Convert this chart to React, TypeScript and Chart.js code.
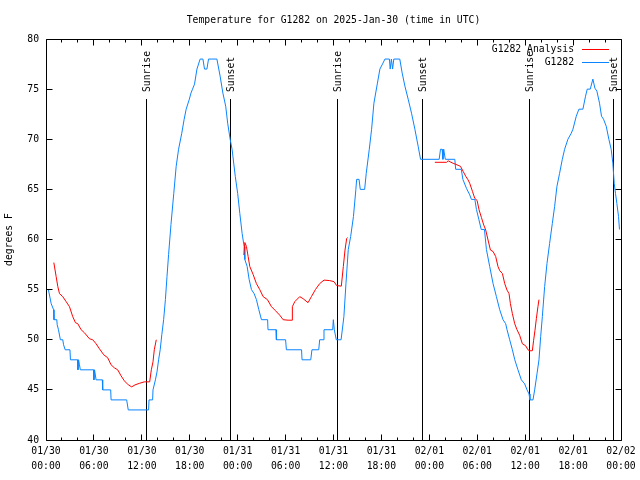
import React, { useEffect, useRef } from "react";
import { Chart, registerables } from "chart.js";

Chart.register(...registerables);

const FONT = "'DejaVu Sans Mono', 'Liberation Mono', monospace";
const FONT_SIZE = 9.75;

const titleText = "Temperature for G1282 on 2025-Jan-30 (time in UTC)";
const yAxisTitle = "degrees F";

// hours since 2025-01-30 00:00 UTC
const xTickDates = ["01/30", "01/30", "01/30", "01/30", "01/31", "01/31", "01/31", "01/31", "02/01", "02/01", "02/01", "02/01", "02/02"];
const xTickTimes = ["00:00", "06:00", "12:00", "18:00", "00:00", "06:00", "12:00", "18:00", "00:00", "06:00", "12:00", "18:00", "00:00"];
const yTickValues = [40, 45, 50, 55, 60, 65, 70, 75, 80];

const sunHours = [12.6, 23.1, 36.48, 47.1, 60.48, 71.1];
const sunLabels = ["Sunrise", "Sunset", "Sunrise", "Sunset", "Sunrise", "Sunset"];

const seriesNames = ["G1282 Analysis", "G1282"];
const seriesColors = ["#ff0000", "#0a84ff"];

// [hour, degrees F]
const observed: number[][] = [
  [0.3, 55], [0.65, 53.6], [0.95, 53], [1.0, 52], [1.35, 52], [1.4, 51.5], [1.56, 51], [1.8, 50], [2.1, 50], [2.2, 49.5],
  [2.4, 49], [3.0, 49], [3.06, 48], [3.95, 48], [4.0, 47], [4.08, 48], [4.19, 47.5], [4.3, 47], [5.95, 47], [6.0, 46],
  [6.08, 47], [6.27, 46], [7.05, 46], [7.1, 45], [8.1, 45], [8.15, 44], [10.1, 44], [10.3, 43], [12.85, 43],
  [12.9, 44], [13.35, 44], [13.4, 45], [13.7, 46], [13.9, 46.8], [14.1, 48], [14.3, 49], [14.5, 50.5], [14.73, 52],
  [14.95, 54], [15.15, 56.3], [15.35, 58.5], [15.65, 61.5], [16.0, 64.6], [16.3, 67.3], [16.6, 69], [17.0, 70.6],
  [17.3, 72], [17.55, 73], [17.95, 74], [18.15, 74.6], [18.35, 75], [18.6, 75.5], [18.9, 77], [19.3, 78], [19.65, 78],
  [19.85, 77], [20.15, 77], [20.35, 78], [21.4, 78], [21.8, 76.3], [22.15, 74.6], [22.5, 73.3], [22.75, 71.6],
  [23.06, 70], [23.3, 69], [23.7, 66.3], [24.0, 64.6], [24.27, 62.6], [24.56, 60.6], [24.81, 59.3], [24.9, 58],
  [25.19, 57.3], [25.44, 56], [25.73, 55], [26.06, 54.6], [26.35, 54], [26.65, 53], [26.98, 52], [27.75, 52],
  [27.8, 51], [28.8, 51], [28.85, 50], [30.0, 50], [30.1, 49], [32.0, 49], [32.06, 48], [33.15, 48], [33.3, 49],
  [34.15, 49], [34.27, 50], [34.7, 50], [34.81, 51], [35.9, 51], [35.98, 52], [36.05, 52], [36.1, 51], [36.35, 50],
  [36.95, 50], [37.3, 52.3], [37.56, 55.6], [37.85, 59], [38.15, 60.3], [38.5, 62.3], [38.8, 65], [38.9, 66],
  [39.2, 66], [39.35, 65], [39.9, 65], [40.1, 66.6], [40.48, 69], [40.77, 71], [41.06, 73.6], [41.5, 75.6],
  [41.81, 77], [42.2, 77.6], [42.44, 78], [43.0, 78], [43.1, 77], [43.25, 78], [43.4, 77], [43.55, 78], [44.3, 78],
  [44.6, 76.6], [44.94, 75.3], [45.35, 74], [45.77, 72.6], [46.19, 71], [46.6, 69.3], [46.9, 68], [49.23, 68],
  [49.4, 69], [49.6, 69], [49.7, 68], [49.8, 69], [50.0, 68], [51.19, 68], [51.3, 67], [52.0, 67], [52.2, 66],
  [52.65, 65.1], [53.06, 64.45], [53.27, 64], [53.7, 64], [53.9, 63], [54.2, 62], [54.5, 61], [54.9, 61], [55.15, 59],
  [55.56, 57.3], [55.98, 55.6], [56.4, 54.3], [56.81, 53], [57.23, 52], [57.56, 51.6], [57.73, 51], [58.06, 50],
  [58.4, 49], [58.7, 48], [59.1, 47], [59.52, 46], [59.94, 45.6], [60.23, 45], [60.48, 44.6], [60.6, 44], [60.98, 44],
  [61.19, 45], [61.48, 46.6], [61.73, 48], [61.94, 50.3], [62.15, 52.3], [62.44, 55.3], [62.73, 57.6], [63.06, 59.6],
  [63.4, 61.6], [63.69, 63.3], [63.98, 65.3], [64.31, 66.6], [64.65, 68], [64.94, 69], [65.35, 70], [65.77, 70.6],
  [65.98, 71], [66.4, 72.3], [66.73, 73], [67.23, 73], [67.56, 74.3], [67.77, 75], [68.15, 75], [68.48, 76],
  [68.73, 75.1], [68.98, 74.8], [69.31, 73.6], [69.56, 72.3], [69.81, 72], [70.15, 71.3], [70.48, 70], [70.77, 69],
  [70.98, 67.6], [71.15, 65.6], [71.31, 64.6], [71.48, 63.6], [71.69, 62.3], [71.81, 61],
];

const analysisNight1: number[][] = [
  [0.98, 57.7], [1.27, 56.3], [1.48, 55.3], [1.69, 54.6], [2.1, 54.3], [2.52, 53.8], [2.94, 53.3], [3.35, 52.3],
  [3.69, 51.7], [3.98, 51.6], [4.4, 51], [4.81, 50.7], [5.44, 50.1], [5.85, 50], [6.27, 49.6], [6.69, 49.1],
  [7.23, 48.5], [7.73, 48.2], [8.15, 47.5], [8.56, 47.2], [8.98, 47], [9.4, 46.4], [9.81, 45.9], [10.31, 45.5],
  [10.73, 45.3], [11.15, 45.5], [11.69, 45.65], [12.31, 45.8], [12.98, 45.8], [13.19, 47], [13.4, 47.8],
  [13.56, 49], [13.81, 50],
];
const analysisNight2: number[][] = [
  [24.77, 58.45], [24.9, 59.7], [25.1, 59.3], [25.31, 58.3], [25.52, 57.3], [25.94, 56.5], [26.35, 55.6],
  [26.77, 55], [27.19, 54.3], [27.73, 54], [28.23, 53.3], [28.73, 52.9], [29.27, 52.45], [29.69, 52],
  [30.31, 51.95], [30.81, 51.95], [30.85, 53.3], [31.15, 53.8], [31.77, 54.3], [32.19, 54.1], [32.81, 53.7],
  [33.23, 54.3], [33.73, 55], [34.27, 55.6], [34.81, 55.95], [35.52, 55.9], [36.06, 55.8], [36.4, 55.4],
  [36.98, 55.35], [37.23, 57.3], [37.44, 58.95], [37.65, 60.1], [37.77, 60.2],
];
const analysisNight3: number[][] = [
  [48.69, 67.7], [50.15, 67.7], [50.35, 67.85], [50.98, 67.6], [51.31, 67.5], [51.6, 67.4], [51.9, 67.3],
  [52.23, 66.8], [52.56, 66.3], [52.85, 65.95], [53.06, 65.6], [53.4, 64.8], [53.69, 64.1], [53.98, 63.9],
  [54.23, 62.95], [54.52, 62.2], [54.81, 61.45], [55.06, 60.95], [55.35, 59.95], [55.65, 58.95], [55.98, 58.8],
  [56.31, 58.3], [56.6, 57.3], [56.81, 56.9], [57.15, 56.6], [57.44, 55.6], [57.73, 54.95], [57.98, 54.6],
  [58.15, 53.6], [58.4, 52.6], [58.69, 51.6], [58.98, 51], [59.31, 50.45], [59.65, 49.6], [60.06, 49.4],
  [60.35, 49], [60.56, 48.9], [60.9, 48.9], [61.06, 49.95], [61.23, 50.95], [61.4, 52.1], [61.6, 53.3], [61.73, 54],
];

const toPts = (arr: number[][]) => arr.map(([x, y]) => ({ x, y }));
const withGaps = (segs: number[][][]) => {
  const out: { x: number; y: number | null }[] = [];
  segs.forEach((s, i) => {
    if (i > 0) out.push({ x: (segs[i - 1][segs[i - 1].length - 1][0] + s[0][0]) / 2, y: null });
    out.push(...toPts(s));
  });
  return out;
};

const crisp = (v: number) => Math.floor(v) + 0.5;

const gnuplotPlugin = {
  id: "gnuplotDecor",
  beforeDatasetsDraw(chart: any) {
    const ctx = chart.ctx;
    const xs = chart.scales.x;
    const area = chart.chartArea;
    ctx.save();
    ctx.strokeStyle = "#000";
    ctx.lineWidth = 1;
    ctx.fillStyle = "#000";
    ctx.font = `${FONT_SIZE}px ${FONT}`;
    sunHours.forEach((h, i) => {
      const px = crisp(xs.getPixelForValue(h));
      ctx.beginPath();
      ctx.moveTo(px, 99);
      ctx.lineTo(px, area.bottom);
      ctx.stroke();
      ctx.save();
      ctx.translate(px + 1, 92);
      ctx.rotate(-Math.PI / 2);
      ctx.textAlign = "left";
      ctx.textBaseline = "middle";
      ctx.fillText(sunLabels[i], 0, 0);
      ctx.restore();
    });
    ctx.restore();
  },
  afterDraw(chart: any) {
    const ctx = chart.ctx;
    const xs = chart.scales.x;
    const ys = chart.scales.y;
    const a = chart.chartArea;
    const L = crisp(a.left), R = crisp(a.right), T = crisp(a.top), B = crisp(a.bottom);
    ctx.save();
    ctx.strokeStyle = "#000";
    ctx.lineWidth = 1;
    ctx.beginPath();
    ctx.rect(L, T, R - L, B - T);
    // x ticks, inward, bottom and top
    for (let h = 0; h <= 72; h += 2) {
      const px = crisp(xs.getPixelForValue(h));
      const len = h % 6 === 0 ? 6 : 3;
      ctx.moveTo(px, B);
      ctx.lineTo(px, B - len);
      ctx.moveTo(px, T);
      ctx.lineTo(px, T + len);
    }
    yTickValues.forEach((v) => {
      const py = crisp(ys.getPixelForValue(v));
      ctx.moveTo(L, py);
      ctx.lineTo(L + 6, py);
      ctx.moveTo(R, py);
      ctx.lineTo(R - 6, py);
    });
    ctx.stroke();

    // title
    ctx.fillStyle = "#000";
    ctx.font = `${FONT_SIZE}px ${FONT}`;
    ctx.textAlign = "center";
    ctx.textBaseline = "middle";
    ctx.fillText(titleText, (a.left + a.right) / 2, 20);

    // legend
    ctx.textAlign = "right";
    const rows = [49.5, 62.5];
    seriesNames.forEach((name, i) => {
      const y = rows[i];
      ctx.fillStyle = "#000";
      ctx.fillText(name, 574, y);
      ctx.strokeStyle = seriesColors[i];
      ctx.beginPath();
      ctx.moveTo(582, y);
      ctx.lineTo(609, y);
      ctx.stroke();
    });
    ctx.restore();
  },
};

export default function App() {
  const ref = useRef<HTMLCanvasElement | null>(null);
  useEffect(() => {
    if (!ref.current) return;
    const chart = new Chart(ref.current, {
      type: "line",
      data: {
        datasets: [
          {
            label: seriesNames[0],
            data: withGaps([analysisNight1, analysisNight2, analysisNight3]) as any,
            borderColor: seriesColors[0],
            borderWidth: 1,
            pointRadius: 0,
            tension: 0,
            spanGaps: false,
          },
          {
            label: seriesNames[1],
            data: toPts(observed) as any,
            borderColor: seriesColors[1],
            borderWidth: 1,
            pointRadius: 0,
            tension: 0,
          },
        ],
      },
      options: {
        animation: false,
        responsive: false,
        layout: { padding: { top: 39, right: 19, left: 0, bottom: 0 } },
        plugins: {
          legend: { display: false },
          title: { display: false },
          tooltip: { enabled: false },
        },
        scales: {
          x: {
            type: "linear",
            min: 0,
            max: 72,
            grid: { display: false, drawTicks: false, tickLength: 0 },
            border: { display: false },
            afterFit: (s: any) => {
              s.height = 40;
            },
            ticks: {
              stepSize: 6,
              autoSkip: false,
              maxRotation: 0,
              padding: 4,
              color: "#000",
              font: { family: FONT, size: FONT_SIZE, lineHeight: "15px" },
              callback: (v: any) => {
                const i = Math.round(Number(v) / 6);
                return [xTickDates[i], xTickTimes[i]];
              },
            },
          },
          y: {
            min: 40,
            max: 80,
            grid: { display: false, drawTicks: false, tickLength: 0 },
            border: { display: false },
            afterFit: (s: any) => {
              s.width = 46;
            },
            ticks: {
              stepSize: 5,
              padding: 7,
              color: "#000",
              font: { family: FONT, size: FONT_SIZE },
            },
            title: {
              display: true,
              text: yAxisTitle,
              color: "#000",
              font: { family: FONT, size: FONT_SIZE },
              padding: { top: 4, bottom: 0 },
            },
          },
        },
      },
      plugins: [gnuplotPlugin],
    });
    return () => chart.destroy();
  }, []);
  return (
    <div style={{ position: "absolute", left: 0, top: 0, width: 640, height: 480, background: "#fff" }}>
      <canvas ref={ref} width={640} height={480} style={{ display: "block" }} />
    </div>
  );
}
